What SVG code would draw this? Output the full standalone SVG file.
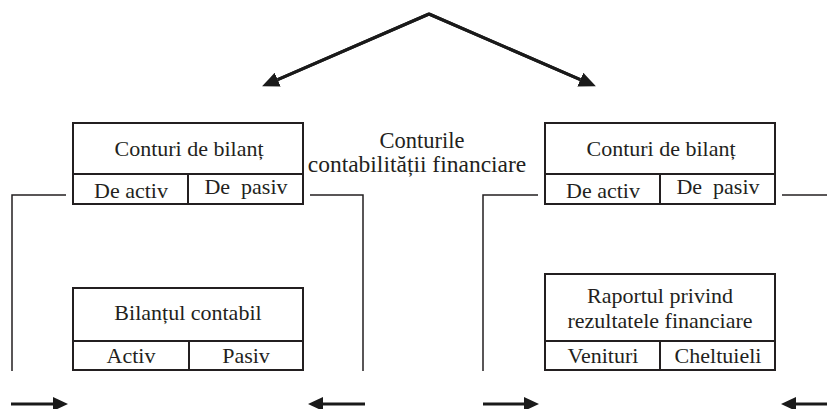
<svg xmlns="http://www.w3.org/2000/svg" width="827" height="409" viewBox="0 0 827 409">
  <defs>
    <style>
      .box { fill: #ffffff; stroke: #231f20; stroke-width: 2; }
      .sep { fill: none; stroke: #231f20; stroke-width: 2; }
      .txt { font-family: "Liberation Serif", "Times New Roman", serif; font-size: 22px; fill: #231f20; text-anchor: middle; }
      .link { fill: none; stroke: #231f20; stroke-width: 1.5; }
      .thick { fill: none; stroke: #1a1a1a; stroke-width: 3; }
    </style>
    <marker id="head" markerUnits="userSpaceOnUse" markerWidth="17" markerHeight="15" refX="0" refY="7.5" orient="auto">
      <path d="M0,0 L17,7.5 L0,15 Z" fill="#1a1a1a"/>
    </marker>
    <marker id="headSmall" markerUnits="userSpaceOnUse" markerWidth="15" markerHeight="14" refX="0" refY="7" orient="auto">
      <path d="M0,0 L15,7 L0,14 Z" fill="#1a1a1a"/>
    </marker>
  </defs>

  <rect width="827" height="409" fill="#ffffff"/>

  <!-- connectors -->
  <g id="connectors">
    <!-- split from the top into the two groups of accounts -->
    <polyline class="thick" points="277.7,79.6 429,14 580.3,79.6" stroke-linejoin="miter"/>
    <line class="thick" x1="429" y1="14" x2="277.7" y2="79.6" marker-end="url(#head)"/>
    <line class="thick" x1="429" y1="14" x2="580.3" y2="79.6" marker-end="url(#head)"/>

    <!-- brackets around the left column -->
    <polyline class="link" points="66,195 12,195 12,371"/>
    <polyline class="link" points="310,195 363,195 363,371"/>
    <!-- brackets around the right column -->
    <polyline class="link" points="538,195 483,195 483,371"/>
    <line class="link" x1="782" y1="195" x2="827" y2="195"/>

    <!-- bottom arrows -->
    <line class="thick" x1="11" y1="404" x2="53" y2="404" marker-end="url(#headSmall)"/>
    <line class="thick" x1="365" y1="404" x2="323" y2="404" marker-end="url(#headSmall)"/>
    <line class="thick" x1="483" y1="404" x2="524" y2="404" marker-end="url(#headSmall)"/>
    <line class="thick" x1="827" y1="404" x2="796" y2="404" marker-end="url(#headSmall)"/>
  </g>

  <!-- central caption -->
  <g id="caption">
    <text class="txt" x="422" y="148" style="font-size:22.5px">Conturile</text>
    <text class="txt" x="417" y="172" style="font-size:23.5px">contabilității financiare</text>
  </g>

  <!-- balance sheet accounts, left -->
  <g id="conturi-bilant-1">
    <rect class="box" x="73" y="123" width="230" height="81"/>
    <line class="sep" x1="73" y1="174" x2="303" y2="174"/>
    <line class="sep" x1="188" y1="174" x2="188" y2="204"/>
    <text class="txt" x="189" y="156">Conturi de bilanț</text>
    <text class="txt" x="131" y="198">De activ</text>
    <text class="txt" x="246" y="194">De&#160; pasiv</text>
  </g>

  <!-- balance sheet accounts, right -->
  <g id="conturi-bilant-2">
    <rect class="box" x="545" y="123" width="230" height="81"/>
    <line class="sep" x1="545" y1="174" x2="775" y2="174"/>
    <line class="sep" x1="660" y1="174" x2="660" y2="204"/>
    <text class="txt" x="661" y="156">Conturi de bilanț</text>
    <text class="txt" x="603" y="198">De activ</text>
    <text class="txt" x="718" y="194">De&#160; pasiv</text>
  </g>

  <!-- balance sheet -->
  <g id="bilant-contabil">
    <rect class="box" x="73" y="288" width="230" height="82"/>
    <line class="sep" x1="73" y1="341" x2="303" y2="341"/>
    <line class="sep" x1="189" y1="341" x2="189" y2="370"/>
    <text class="txt" x="188" y="320">Bilanțul contabil</text>
    <text class="txt" x="131" y="363">Activ</text>
    <text class="txt" x="246" y="363">Pasiv</text>
  </g>

  <!-- income statement -->
  <g id="raport-rezultate">
    <rect class="box" x="545" y="274" width="230" height="96"/>
    <line class="sep" x1="545" y1="341" x2="775" y2="341"/>
    <line class="sep" x1="660" y1="341" x2="660" y2="370"/>
    <text class="txt" x="660" y="303">Raportul privind</text>
    <text class="txt" x="660" y="328">rezultatele financiare</text>
    <text class="txt" x="603" y="363">Venituri</text>
    <text class="txt" x="718" y="363">Cheltuieli</text>
  </g>
</svg>
